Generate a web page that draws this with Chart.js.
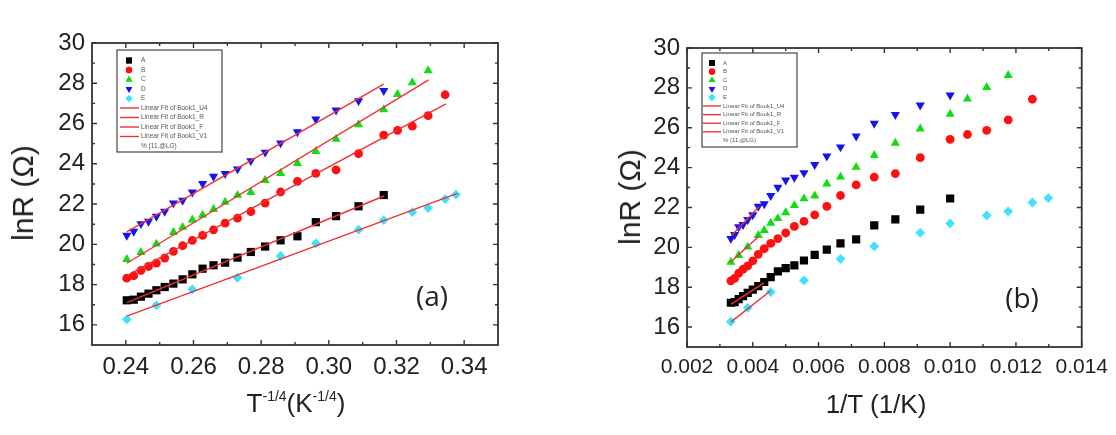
<!DOCTYPE html>
<html>
<head>
<meta charset="utf-8">
<script src="https://cdn.jsdelivr.net/npm/chart.js@4/dist/chart.umd.min.js"></script>
<style>
  body { margin: 0; background: #fff; width: 1116px; height: 435px; overflow: hidden; position: relative;
         font-family: "Liberation Sans", Arial, sans-serif; color: #222; }
  .wrap { position: absolute; top: 0; width: 558px; height: 435px; }
  .ytitle { position: absolute; font-size: 30px; white-space: nowrap; transform: translate(-50%, -50%) rotate(-90deg); }
  .xtitle { position: absolute; font-size: 26px; white-space: nowrap; transform: translateX(-50%); line-height: 30px; }
  .xtitle sup { font-size: 14px; vertical-align: 11px; line-height: 0; }
  .tag { position: absolute; font-family: "Open Sans", sans-serif; font-size: 28px; transform: translate(-50%, -50%); }
</style>
</head>
<body>
<div class="wrap" style="left:0"><canvas id="chartA" width="558" height="435"></canvas></div>
<div class="wrap" style="left:558px"><canvas id="chartB" width="558" height="435"></canvas></div>

<div class="ytitle" style="left:23px; top:193px">lnR (Ω)</div>
<div class="ytitle" style="left:630px; top:197px">lnR (Ω)</div>
<div class="xtitle" style="left:296px; top:388px">T<sup>-1/4</sup>(K<sup>-1/4</sup>)</div>
<div class="xtitle" style="left:876px; top:389px">1/T (1/K)</div>
<div class="tag" style="left:432px; top:295px">(a)</div>
<div class="tag" style="left:1022px; top:297px">(b)</div>

<script>
// temperatures (K) of each sample and the measured lnR
const tempsA = [300, 290, 280, 270, 260, 250, 240, 230, 220, 210, 200, 190, 180, 170, 160, 150, 140, 130, 120, 110, 100];
const lnRA = [17.22, 17.25, 17.4, 17.55, 17.72, 17.88, 18.05, 18.26, 18.51, 18.79, 18.96, 19.09, 19.34, 19.62, 19.89, 20.2, 20.4, 21.1, 21.4, 21.89, 22.45];

const tempsB = [300, 290, 280, 270, 260, 250, 240, 230, 220, 210, 200, 190, 180, 170, 160, 150, 140, 130, 120, 110, 100, 95, 90, 85, 80];
const lnRB = [18.32, 18.44, 18.7, 18.9, 19.07, 19.32, 19.65, 19.93, 20.2, 20.44, 20.72, 21.05, 21.3, 21.63, 22.05, 22.6, 23.13, 23.52, 23.7, 24.5, 25.42, 25.66, 25.87, 26.39, 27.43];

const tempsC = [300, 280, 260, 240, 230, 220, 210, 200, 190, 180, 170, 160, 150, 140, 130, 120, 110, 100, 95, 90, 85];
const lnRC = [19.26, 19.6, 20.02, 20.6, 20.85, 21.22, 21.45, 21.74, 22.1, 22.44, 22.58, 23.18, 23.53, 24.02, 24.62, 25.23, 25.95, 26.69, 27.45, 28.03, 28.63];

const tempsD = [300, 290, 280, 270, 260, 250, 240, 230, 220, 210, 200, 190, 180, 170, 160, 150, 140, 130, 120, 110, 100];
const lnRD = [20.44, 20.64, 21.02, 21.14, 21.39, 21.63, 22.05, 22.18, 22.59, 23.01, 23.37, 23.51, 23.74, 24.15, 24.57, 25.03, 25.58, 26.22, 26.66, 27.13, 27.63];

const tempsE = [300, 260, 220, 180, 150, 130, 110, 100, 90, 85, 80, 77];
const lnRE = [16.27, 16.97, 17.76, 18.34, 19.42, 20.05, 20.73, 21.2, 21.6, 21.8, 22.25, 22.47];

// linear fits: [x0, y0, x1, y1]
const fitsA = [
  [0.2403, 20.62, 0.3162, 27.96],
  [0.2403, 19.06, 0.3295, 28.17],
  [0.2403, 18.45, 0.3346, 26.98],
  [0.2403, 17.1, 0.3163, 22.4],
  [0.2403, 16.43, 0.3380, 22.53]
];
const fitsB = [
  [0.00334, 20.57, 0.00419, 22.04],
  [0.00334, 19.28, 0.00419, 20.57],
  [0.00334, 17.15, 0.00434, 18.22],
  [0.00334, 16.26, 0.00454, 17.82]
];

const yTicks = [16, 18, 20, 22, 24, 26, 28, 30];
const yMinor = [17, 19, 21, 23, 25, 27, 29];
const xTicksA = [0.24, 0.26, 0.28, 0.30, 0.32, 0.34];
const xMinorA = [0.25, 0.27, 0.29, 0.31, 0.33];
const xTicksB = [0.002, 0.004, 0.006, 0.008, 0.010, 0.012, 0.014];
const xMinorB = [0.003, 0.005, 0.007, 0.009, 0.011, 0.013];

const legendNames = ['A', 'B', 'C', 'D', 'E'];
const fitNames = ['Linear Fit of Book1_U4', 'Linear Fit of Book1_R', 'Linear Fit of Book1_F', 'Linear Fit of Book1_V1'];

const series = [
  { t: tempsA, v: lnRA, color: '#000000', style: 'rect', r: 5.8, rot: 0 },
  { t: tempsB, v: lnRB, color: '#ff1010', style: 'circle', r: 4.4, rot: 0 },
  { t: tempsC, v: lnRC, color: '#12dc12', style: 'triangle', r: 5.3, rot: 0 },
  { t: tempsD, v: lnRD, color: '#1414f0', style: 'triangle', r: 5.3, rot: 180 },
  { t: tempsE, v: lnRE, color: '#3ee2ff', style: 'rectRot', r: 4.9, rot: 0 }
];
const fitColor = '#f03030';

function buildDatasets(toX, fits) {
  const sets = fits.map(f => ({
    data: [{ x: f[0], y: f[1] }, { x: f[2], y: f[3] }],
    showLine: true, borderColor: fitColor, borderWidth: 1.4, pointRadius: 0, order: 0
  }));
  series.forEach(s => {
    sets.push({
      data: s.t.map((t, i) => ({ x: toX(t), y: s.v[i] })),
      showLine: false, pointStyle: s.style, pointRotation: s.rot, pointRadius: s.r,
      backgroundColor: s.color, borderColor: s.color, borderWidth: 0, order: 1
    });
  });
  return sets;
}

function framePlugin(xMinor, box) {
  return {
    id: 'frame',
    afterDatasetsDraw(chart) {
      const { ctx, chartArea: a, scales: { x, y } } = chart;
      ctx.save();
      ctx.strokeStyle = '#333';
      ctx.lineWidth = 1.4;
      const tickX = (vals, len) => vals.forEach(v => {
        const px = x.getPixelForValue(v);
        ctx.beginPath();
        ctx.moveTo(px, a.bottom); ctx.lineTo(px, a.bottom - len);
        ctx.moveTo(px, a.top); ctx.lineTo(px, a.top + len);
        ctx.stroke();
      });
      const tickY = (vals, len) => vals.forEach(v => {
        const py = y.getPixelForValue(v);
        ctx.beginPath();
        ctx.moveTo(a.left, py); ctx.lineTo(a.left + len, py);
        ctx.moveTo(a.right, py); ctx.lineTo(a.right - len, py);
        ctx.stroke();
      });
      tickX(x.ticks.map(t => t.value), 5);
      tickX(xMinor, 3);
      tickY(yTicks, 5);
      tickY(yMinor, 3);
      ctx.lineWidth = 1.8;
      ctx.strokeRect(a.left, a.top, a.right - a.left, a.bottom - a.top);

      // legend box
      ctx.lineWidth = 1.2;
      ctx.strokeStyle = '#444';
      ctx.fillStyle = '#fff';
      ctx.fillRect(box.x, box.y, box.w, box.h);
      ctx.strokeRect(box.x, box.y, box.w, box.h);
      ctx.font = box.font + 'px "Liberation Sans", Arial, sans-serif';
      ctx.textBaseline = 'middle';
      let row = box.y + box.first;
      series.forEach((s, i) => {
        ctx.fillStyle = s.color;
        ctx.strokeStyle = s.color;
        Chart.helpers.drawPoint(ctx, { pointStyle: s.style, rotation: s.rot, radius: s.r * 0.72, borderWidth: 0 }, box.mx, row);
        ctx.fill();
        ctx.fillStyle = '#555';
        ctx.fillText(legendNames[i], box.tx, row);
        row += box.step;
      });
      fitNames.forEach(n => {
        ctx.strokeStyle = fitColor;
        ctx.lineWidth = 1.4;
        ctx.beginPath();
        ctx.moveTo(box.l0, row); ctx.lineTo(box.l1, row);
        ctx.stroke();
        ctx.fillStyle = '#555';
        ctx.fillText(n, box.tx, row);
        row += box.step;
      });
      ctx.fillText('% (11,@LG)', box.tx, row);
      ctx.restore();
    }
  };
}

function makeChart(id, cfg) {
  const font = { family: '"Liberation Sans", Arial, sans-serif', size: 24 };
  return new Chart(document.getElementById(id), {
    type: 'scatter',
    data: { datasets: cfg.datasets },
    options: {
      responsive: false,
      animation: false,
      layout: { padding: cfg.padding },
      plugins: { legend: { display: false }, tooltip: { enabled: false } },
      scales: {
        x: {
          type: 'linear', min: cfg.xMin, max: cfg.xMax,
          grid: { display: false, drawTicks: false, tickLength: 0 },
          border: { display: false },
          afterBuildTicks: s => { s.ticks = cfg.xTicks.map(v => ({ value: v })); },
          afterFit: s => { s.height = 40; },
          ticks: { font: { ...font, size: cfg.xFont }, color: '#222', padding: 8, maxRotation: 0,
                   callback: v => v.toFixed(cfg.dec) }
        },
        y: {
          type: 'linear', min: 15, max: 30,
          grid: { display: false, drawTicks: false, tickLength: 0 },
          border: { display: false },
          afterBuildTicks: s => { s.ticks = yTicks.map(v => ({ value: v })); },
          afterFit: s => { s.width = cfg.yWidth; },
          ticks: { font, color: '#222', padding: 7 }
        }
      }
    },
    plugins: [framePlugin(cfg.xMinor, cfg.box)]
  });
}

makeChart('chartA', {
  datasets: buildDatasets(t => Math.pow(t, -0.25), fitsA),
  xMin: 0.23, xMax: 0.35, xTicks: xTicksA, xMinor: xMinorA, dec: 2, xFont: 24,
  yWidth: 92, padding: { left: 0, right: 60, top: 43, bottom: 50 },
  box: { x: 117, y: 50, w: 105, h: 102, first: 10.5, step: 9.5, mx: 129, tx: 141, l0: 120, l1: 139, font: 6.5 }
});

makeChart('chartB', {
  datasets: buildDatasets(t => 1 / t, fitsB),
  xMin: 0.002, xMax: 0.014, xTicks: xTicksB, xMinor: xMinorB, dec: 3, xFont: 21,
  yWidth: 129, padding: { left: 0, right: 29, top: 48, bottom: 48 },
  box: { x: 144, y: 53, w: 95, h: 94, first: 10, step: 8.6, mx: 154, tx: 165, l0: 145, l1: 163, font: 6 }
});
</script>
</body>
</html>
